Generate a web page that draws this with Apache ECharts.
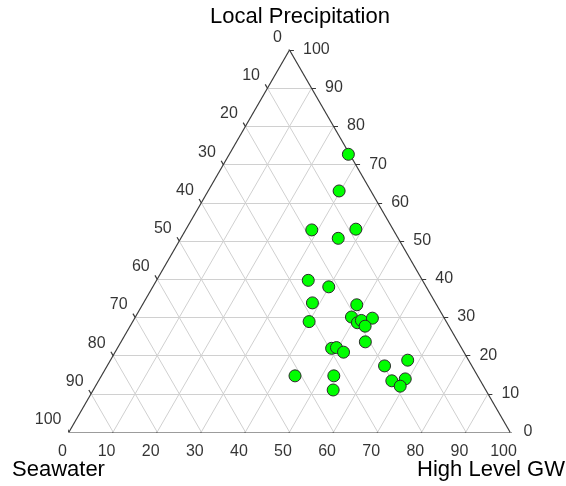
<!DOCTYPE html>
<html>
<head>
<meta charset="utf-8">
<script src="https://cdn.jsdelivr.net/npm/echarts@6/dist/echarts.min.js"></script>
<style>html,body{margin:0;padding:0;background:#fff}#c{width:566px;height:486px}</style>
</head>
<body>
<div id="c"></div>
<script>
// Ternary components (percent)
const seawater = [0.3, 7.2, 18.5, 8.4, 13.6, 25.9, 22.1, 27.9, 18.1, 20.9, 31.1, 20.3, 19.1, 16.3, 19.0, 21.0, 29.5, 28.3, 27.3, 13.8, 19.8, 41.4, 32.6, 20.1, 16.8, 18.9, 34.6];
const highLevelGW = [27.0, 29.7, 28.6, 38.5, 35.7, 34.4, 39.9, 38.3, 48.6, 49.0, 40.0, 51.1, 51.7, 53.9, 53.3, 55.4, 48.6, 49.6, 51.8, 67.4, 62.9, 43.9, 52.7, 66.5, 69.3, 69.1, 54.4];
const localPrecip = [72.7, 63.1, 52.9, 53.1, 50.7, 39.7, 38.0, 33.8, 33.3, 30.1, 28.9, 28.6, 29.2, 29.8, 27.7, 23.6, 21.9, 22.1, 20.9, 18.8, 17.3, 14.7, 14.7, 13.4, 13.9, 12.0, 11.0];
const tickValues = [0, 10, 20, 30, 40, 50, 60, 70, 80, 90, 100];
const axisTitles = ['Local Precipitation', 'Seawater', 'High Level GW'];

const S3 = Math.sqrt(3) / 2;
// a = seawater (bottom-left), b = high level GW (bottom-right), c = local precipitation (top)
function toXY(a, b, c) { return [b + c / 2, c * S3]; }

const gridLines = [], tickLines = [];
const T = 1.0;
tickValues.forEach(v => {
  if (v > 0 && v < 100) {
    gridLines.push({coords: [toXY(100 - v, 0, v), toXY(0, 100 - v, v)]});
    gridLines.push({coords: [toXY(100 - v, v, 0), toXY(0, v, 100 - v)]});
    gridLines.push({coords: [toXY(v, 0, 100 - v), toXY(v, 100 - v, 0)]});
  }
  let p = toXY(0, 100 - v, v);
  tickLines.push({coords: [p, [p[0] + T, p[1]]]});
  p = toXY(100 - v, v, 0);
  tickLines.push({coords: [p, [p[0] - T * 0.5, p[1] - T * S3]]});
  p = toXY(v, 0, 100 - v);
  tickLines.push({coords: [p, [p[0] - T * 0.5, p[1] + T * S3]]});
});
const edges = [
  {coords: [toXY(100, 0, 0), toXY(0, 100, 0)]},
  {coords: [toXY(0, 100, 0), toXY(0, 0, 100)]},
  {coords: [toXY(0, 0, 100), toXY(100, 0, 0)]}
];

const rightLabels = tickValues.map(v => ({value: toXY(0, 100 - v, v), name: String(v)}));
const bottomLabels = tickValues.map(v => ({value: toXY(100 - v, v, 0), name: String(v)}));
const leftLabels = tickValues.map(v => ({value: toXY(v, 0, 100 - v), name: String(v)}));

function labelSeries(data, align, pos) {
  return {
    type: 'scatter', data: data, symbolSize: 1, itemStyle: {color: 'rgba(0,0,0,0)'}, silent: true, z: 5,
    label: {show: true, position: pos, formatter: p => p.name, align: align, verticalAlign: 'middle',
            fontFamily: 'Liberation Sans', fontSize: 16, color: '#000000', textBorderWidth: 0},
    labelLayout: {hideOverlap: false}
  };
}

const points = seawater.map((a, i) => toXY(a, highLevelGW[i], localPrecip[i]));

const chart = echarts.init(document.getElementById('c'), null, {renderer: 'canvas'});
chart.setOption({
  animation: false,
  grid: {left: 69, right: 56, top: 50, bottom: 54},
  xAxis: {type: 'value', min: 0, max: 100, show: false},
  yAxis: {type: 'value', min: 0, max: 100 * S3, show: false},
  graphic: [
    {type: 'text', x: 300, y: 17, style: {text: axisTitles[0], fontFamily: 'Liberation Sans', fontSize: 22, fill: '#000', textAlign: 'center', textVerticalAlign: 'middle'}},
    {type: 'text', x: 12, y: 470, style: {text: axisTitles[1], fontFamily: 'Liberation Sans', fontSize: 22, fill: '#000', textAlign: 'left', textVerticalAlign: 'middle'}},
    {type: 'text', x: 565, y: 470, style: {text: axisTitles[2], fontFamily: 'Liberation Sans', fontSize: 22, fill: '#000', textAlign: 'right', textVerticalAlign: 'middle'}}
  ],
  series: [
    {type: 'lines', coordinateSystem: 'cartesian2d', data: gridLines, silent: true, lineStyle: {color: '#d0d0d0', width: 1, opacity: 1}, z: 1},
    {type: 'lines', coordinateSystem: 'cartesian2d', data: edges, silent: true, lineStyle: {color: '#3a3a3a', width: 1.2, opacity: 1}, z: 2},
    {type: 'lines', coordinateSystem: 'cartesian2d', data: tickLines, silent: true, lineStyle: {color: '#3a3a3a', width: 1.2, opacity: 1}, z: 2},
    labelSeries(rightLabels, 'left', [14, 0]),
    labelSeries(bottomLabels, 'center', [-6, 20]),
    labelSeries(leftLabels, 'right', [-7, -12]),
    {type: 'scatter', data: points, symbol: 'circle', symbolSize: 12, z: 10,
     itemStyle: {color: '#00ff00', borderColor: '#2a2a2a', borderWidth: 1, opacity: 1}}
  ]
});
</script>
</body>
</html>
